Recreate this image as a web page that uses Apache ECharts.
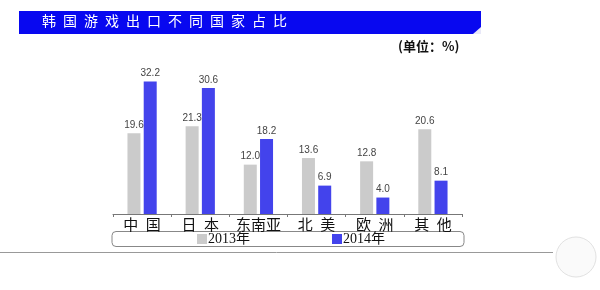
<!DOCTYPE html>
<html>
<head>
<meta charset="utf-8">
<script src="https://cdn.jsdelivr.net/npm/echarts@6/dist/echarts.min.js"></script>
<style>
  html, body { margin: 0; padding: 0; background: #fff; }
  #chart { width: 600px; height: 290px; }
</style>
</head>
<body>
<div id="chart"></div>
<script>
// 韩国游戏出口不同国家占比 (单位：%)
var categories = ['中\u2002国', '日\u2002本', '东南亚', '北\u2002美', '欧\u2002洲', '其\u2002他'];
var years = ['2013年', '2014年'];
var share2013 = [19.6, 21.3, 12.0, 13.6, 12.8, 20.6];
var share2014 = [32.2, 30.6, 18.2, 6.9, 4.0, 8.1];

var titleText = '韩国游戏出口不同国家占比'.split('').join('\u2002');
var unitText = '(单位：%)';

var myChart = echarts.init(document.getElementById('chart'));

var labelStyle = {
    show: true,
    position: 'top',
    distance: 3,
    color: '#444',
    fontSize: 10,
    fontFamily: 'Liberation Sans, Arial, sans-serif',
    formatter: function (p) {
        return p.value.toFixed(1);
    }
};

var option = {
    animation: false,
    backgroundColor: '#fff',
    grid: {
        left: 113,
        right: 138,
        top: 70,
        bottom: 76
    },
    legend: {
        data: years,
        left: 197,
        top: 232,
        padding: 0,
        itemGap: 82,
        itemWidth: 10,
        itemHeight: 10,
        icon: 'rect',
        textStyle: {
            fontSize: 14,
            color: '#111',
            padding: [0, 0, 0, -4],
            fontFamily: 'Liberation Serif, "Noto Sans CJK SC", serif'
        }
    },
    xAxis: [
        {
            type: 'category',
            data: categories,
            axisLine: { lineStyle: { color: '#777', width: 1 } },
            axisTick: { show: true, length: 3, lineStyle: { color: '#777' } },
            axisLabel: {
                interval: 0,
                margin: 3,
                fontSize: 15,
                color: '#111',
                fontFamily: '"Noto Sans CJK SC", sans-serif'
            }
        }
    ],
    yAxis: [
        {
            type: 'value',
            min: 0,
            max: 35,
            show: false,
            splitLine: { show: false }
        }
    ],
    graphic: [
        {
            type: 'rect',
            shape: { x: 19, y: 11, width: 462, height: 23 },
            style: { fill: '#0808f0' }
        },
        {
            type: 'polygon',
            shape: { points: [[473, 34], [481, 34], [481, 27]] },
            style: { fill: '#e8e8f8' }
        },
        {
            type: 'text',
            left: 42,
            top: 14,
            style: {
                text: titleText,
                fill: '#fff',
                fontSize: 14,
                fontFamily: '"Noto Sans CJK SC", sans-serif'
            }
        },
        {
            type: 'text',
            left: 398,
            top: 40,
            style: {
                text: unitText,
                fill: '#111',
                fontSize: 13,
                fontWeight: 'bold',
                fontFamily: '"Noto Sans CJK SC", sans-serif'
            }
        },
        {
            type: 'rect',
            shape: { x: 112, y: 231.5, width: 352, height: 15, r: 4 },
            style: { fill: 'none', stroke: '#888', lineWidth: 1 }
        },
        {
            type: 'line',
            shape: { x1: 0, y1: 252.5, x2: 553, y2: 252.5 },
            style: { stroke: '#999', lineWidth: 1 }
        },
        {
            type: 'circle',
            shape: { cx: 576, cy: 257, r: 20 },
            style: { fill: '#fafafa', stroke: '#e2e2e2', lineWidth: 1 }
        }
    ],
    series: [
        {
            name: years[0],
            type: 'bar',
            data: share2013,
            barWidth: 13,
            barGap: '25%',
            itemStyle: { color: '#cbcbcb' },
            label: labelStyle
        },
        {
            name: years[1],
            type: 'bar',
            data: share2014,
            barWidth: 13,
            itemStyle: { color: '#4343ec' },
            label: labelStyle
        }
    ]
};

myChart.setOption(option);
</script>
</body>
</html>
